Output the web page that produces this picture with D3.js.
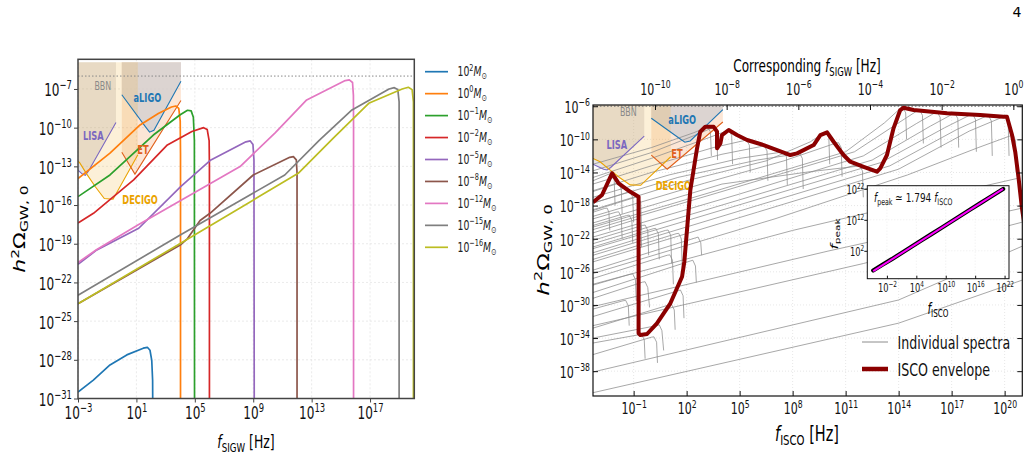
<!DOCTYPE html>
<html><head><meta charset="utf-8">
<script src="https://cdn.jsdelivr.net/npm/d3@7"></script>
<style>body{margin:0;background:#fff}svg{display:block}text{font-family:"DejaVu Sans",sans-serif}</style>
</head><body><svg id="c" width="1031" height="454"></svg>
<script>
// ---------------- DATA (log10 values: [log10 f, log10 h^2 Omega]) ----------------
const massExponents = ["2","0","−1","−2","−5","−8","−12","−15","−16"];
const massColors = ["#1f77b4","#ff7f0e","#2ca02c","#d62728","#9467bd","#8c564b","#e377c2","#7f7f7f","#bcbd22"];
const specM2  = [[-3,-30.5],[-1.95,-29.57],[-0.81,-28.4],[0.34,-27.62],[1.47,-27.1],[1.75,-27.03],[1.93,-27.26],[2.05,-28.04],[2.11,-29.6],[2.12,-32]];
const specM0  = [[-3,-13.95],[-0.81,-11.98],[1.25,-9.79],[2.5,-8.9],[3.4,-8.4],[3.7,-8.32],[3.9,-8.5],[4.0,-9.5],[4.02,-12],[4.02,-32]];
const specMm1 = [[-3,-15.35],[-0.81,-13.67],[2.16,-10.57],[4.0,-9.0],[4.5,-8.65],[4.75,-8.7],[4.9,-9.2],[4.97,-11],[4.98,-32]];
const specMm2 = [[-3,-17.4],[-1.94,-16.64],[0.81,-14.05],[3.12,-11.34],[4.8,-10.3],[5.6,-10.0],[5.85,-10.15],[5.98,-11],[6.0,-13],[6.0,-32]];
const specMm5 = [[-3,-20.6],[-1.71,-19.48],[1.16,-17.8],[4.03,-14.57],[6.1,-12.5],[8.5,-11.1],[8.8,-11.03],[8.98,-11.3],[9.05,-12.5],[9.07,-32]];
const specMm8 = [[-3,-23.65],[4.0,-19.1],[4.5,-18.6],[5.36,-17.2],[6.04,-16.64],[9.0,-13.67],[11.5,-12.3],[11.75,-12.25],[11.95,-12.5],[12.0,-13.5],[12.0,-32]];
const specMm12= [[-3,-20.45],[-1.71,-19.45],[1.13,-17.53],[8.1,-13.02],[10.5,-10.4],[12.66,-7.85],[15.3,-6.35],[15.58,-6.3],[15.8,-6.5],[15.86,-7.5],[15.87,-10],[15.87,-32]];
const specMm15= [[-3,-23.0],[4.03,-18.3],[11.16,-13.67],[13.5,-11.0],[15.76,-8.63],[18.3,-7.0],[18.66,-6.9],[18.9,-7.05],[18.99,-8],[18.99,-32]];
const specMm16= [[-3,-23.65],[4.03,-18.96],[12.08,-13.54],[14.5,-10.8],[16.91,-8.11],[19.2,-7.0],[19.62,-6.87],[19.88,-7.05],[19.97,-8],[19.97,-32]];

const lisaCurve   = [[-3.3,-13.0],[-3.0,-13.3],[-2.7,-13.6],[-2.5,-13.7],[-2.3,-13.4],[-0.4,-9.6]];
const decigoCurve = [[-3.3,-12.3],[-2.9,-12.7],[-2.4,-13.6],[-1.8,-14.6],[-1.2,-15.5],[-0.6,-15.55],[1.1,-12.1]];
const etCurve     = [[0.0,-11.9],[0.9,-13.6],[4.05,-7.9]];
const aligoCurve  = [[0.0,-7.45],[1.6,-9.9],[1.9,-10.35],[2.2,-10.2],[4.05,-6.4]];
const detectorTop = -4.93;
const bbnLimit = -6.0;

const iscoEnvelope = [[-3.3,-17.6],[-3.26,-17.53],[-2.79,-16.72],[-2.22,-14.1],[-1.85,-15.31],[-1.19,-16.33],[-0.72,-16.93],[-0.72,-33.43],[-0.62,-33.63],[-0.24,-33.51],[0.32,-32.22],[1.08,-29.8],[1.74,-26.59],[1.87,-24.78],[2.21,-16.12],[2.59,-11.08],[2.77,-9.08],[3.06,-8.48],[3.53,-8.48],[3.72,-9.08],[3.72,-11.08],[3.91,-10.48],[4.0,-9.48],[4.38,-8.87],[4.85,-9.48],[5.42,-10.08],[6.36,-10.69],[7.12,-11.29],[7.87,-11.89],[8.25,-11.69],[9.19,-10.69],[9.57,-9.48],[9.95,-9.15],[10.32,-10.29],[10.88,-11.89],[11.26,-12.7],[12.02,-13.31],[12.77,-13.91],[12.96,-13.5],[13.34,-11.89],[13.71,-8.67],[14.09,-6.46],[14.28,-6.18],[14.85,-6.46],[16.74,-6.86],[18.62,-7.06],[19.94,-7.27],[20.13,-7.27],[20.42,-9.48],[20.6,-11.5],[20.79,-14.71],[20.98,-18.33],[21.1,-20.0]];

const individualSpectra = [
  [[-3.3,-15.0],[-2.4,-14.2],[-2.25,-14.15],[-2.1,-14.8],[-2.05,-18]],
  [[-3.3,-18.8],[-2.65,-18.35],[-2.5,-18.3],[-2.4,-18.8],[-2.35,-21]],
  [[-3.3,-16.3],[-2.0,-15.4],[-1.85,-15.35],[-1.7,-16.0],[-1.65,-19]],
  [[-3.3,-17.7],[-1.35,-16.4],[-1.2,-16.35],[-1.05,-17.0],[-1.0,-20]],
  [[-3.3,-18.6],[-0.9,-17.0],[-0.75,-16.95],[-0.6,-17.6],[-0.55,-21]],
  [[-3.3,-19.6],[-2.0,-18.8],[-1.85,-18.75],[-1.7,-19.4],[-1.65,-22]],
  [[-3.3,-20.4],[-1.4,-19.2],[-1.25,-19.15],[-1.1,-19.8],[-1.05,-22.5]],
  [[-3.3,-21.3],[-0.9,-19.7],[-0.75,-19.65],[-0.6,-20.3],[-0.55,-23]],
  [[-3.3,-22.2],[-0.5,-20.4],[-0.35,-20.35],[-0.2,-21.0],[-0.15,-24]],
  [[-3.3,-23.0],[0.1,-20.8],[0.25,-20.75],[0.4,-21.4],[0.45,-24.5]],
  [[-3.3,-23.7],[0.8,-21.0],[0.95,-20.95],[1.1,-21.6],[1.15,-25]],
  [[-3.3,-24.5],[1.4,-21.4],[1.55,-21.35],[1.7,-22.0],[1.75,-25.5]],
  [[-3.3,-26.8],[0.9,-24.0],[1.05,-23.95],[1.2,-24.6],[1.25,-27.5]],
  [[-3.3,-27.6],[-1.2,-26.3],[-1.05,-26.25],[-0.9,-26.9],[-0.85,-29.5]],
  [[-3.3,-29.2],[-0.5,-27.25],[-0.35,-27.2],[-0.2,-27.9],[-0.1,-30.3]],
  [[-3.3,-30.5],[-1.6,-29.5],[-1.45,-29.45],[-1.3,-30.1],[-1.25,-32.5]],
  [[-3.3,-32.8],[1.0,-30.0],[1.15,-29.95],[1.3,-30.6],[1.35,-33]],
  [[-3.3,-34.0],[0.3,-32.5],[0.45,-32.4],[0.6,-33.1],[0.7,-35.5]],
  [[-3.3,-34.6],[-0.7,-33.6],[-0.55,-33.55],[-0.4,-34.2],[-0.35,-36.5]],
  [[-3.3,-36.0],[0.0,-33.9],[0.15,-33.85],[0.3,-34.5],[0.35,-37]],
  [[-3.3,-31.4],[1.5,-28.3],[1.65,-28.2],[1.8,-28.9],[1.85,-31.6]],
  [[-3.3,-28.5],[2.2,-24.7],[2.35,-24.6],[2.5,-25.3],[2.55,-27.3]],
  [[-3.3,-25.8],[2.5,-21.9],[2.65,-21.8],[2.8,-22.5],[2.85,-24.0]],
  [[-3.3,-13.0],[0,-11.0],[2.4,-9.2],[3.05,-8.65],[3.2,-8.6],[3.35,-9.1],[3.4,-12]],
  [[-3.3,-13.8],[0,-11.6],[2.6,-9.4],[3.45,-8.6],[3.6,-8.55],[3.72,-9.2],[3.75,-12.5]],
  [[-3.3,-14.6],[0,-12.3],[3,-10.0],[4.25,-9.0],[4.4,-8.95],[4.55,-9.5],[4.6,-13]],
  [[-3.3,-15.4],[0,-13.2],[3.5,-11.0],[5.25,-10.15],[5.4,-10.1],[5.55,-10.7],[5.6,-14]],
  [[-3.3,-16.2],[0,-14.0],[4,-11.8],[6.25,-10.85],[6.4,-10.8],[6.55,-11.4],[6.6,-15]],
  [[-3.3,-17.0],[1,-14.3],[5,-12.3],[7.35,-11.55],[7.5,-11.5],[7.65,-12.1],[7.7,-15.5]],
  [[-3.3,-17.7],[1.5,-14.6],[6,-12.5],[8.25,-11.75],[8.4,-11.7],[8.55,-12.3],[8.6,-16]],
  [[-3.3,-18.5],[2,-15.0],[6.5,-12.6],[9.0,-10.3],[9.75,-9.25],[9.9,-9.2],[10.05,-9.8],[10.1,-13]],
  [[-3.3,-19.3],[3,-15.3],[7.5,-12.6],[10.45,-10.45],[10.6,-10.4],[10.75,-11],[10.8,-14.5]],
  [[-3.3,-20.1],[4,-15.4],[9,-13.9],[11.65,-13.25],[11.8,-13.2],[11.95,-13.8],[12.0,-17]],
  [[-3.3,-20.6],[4,-16.0],[11,-11.5],[13.2,-8.0],[14.1,-6.25],[14.25,-6.2],[14.4,-6.8],[14.45,-10]],
  [[-3.3,-20.9],[4,-16.3],[11.5,-11.5],[14,-8.0],[15.05,-6.55],[15.2,-6.5],[15.35,-7.1],[15.4,-10.5]],
  [[-3.3,-21.8],[5,-16.6],[12,-12.0],[15,-8.1],[16.05,-6.8],[16.2,-6.75],[16.35,-7.35],[16.4,-11]],
  [[-3.3,-22.6],[5,-17.3],[12.5,-12.5],[15.8,-8.4],[17.05,-6.95],[17.2,-6.9],[17.35,-7.5],[17.4,-11]],
  [[-3.3,-23.2],[5,-17.9],[13,-12.8],[16.6,-8.6],[18.05,-7.05],[18.2,-7.0],[18.35,-7.6],[18.4,-11.5]],
  [[-3.3,-24.0],[6,-18.0],[13.5,-13.2],[17.3,-8.8],[18.95,-7.2],[19.1,-7.15],[19.25,-7.8],[19.3,-12]],
  [[-3.3,-24.8],[6,-18.8],[14,-13.6],[18,-9.0],[19.9,-7.3],[20.05,-7.25],[20.2,-7.9],[20.25,-12]],
  [[-3.3,-26.2],[7,-19.6],[14.5,-14.3],[18.5,-11],[20.35,-9.55],[20.5,-9.5],[20.62,-10.2],[20.66,-14]],
  [[-3.3,-27.5],[8,-21.0],[15,-17.5],[20.65,-14.75],[20.8,-14.7],[20.9,-15.3],[20.95,-19]],
  [[-3.3,-30.2],[10,-23.5],[21.0,-18.3]],
  [[-3.3,-32.5],[12,-25.0],[21.0,-20.0]],
  [[-3.3,-38.1],[14.0,-29.4],[21.0,-22.9]],
  [[-3.3,-40.6],[14.0,-32.2],[21.0,-27.0]]
];

const insetIsco = [-4.8,-3,-1,1,3,5,7,9,11,13,15,17,19,21.7];
const insetPeak = [-4.35,-2.6,-0.7,1.3,3.3,5.3,7.3,9.3,11.3,13.3,15.3,17.3,19.3,21.95];
const insetFit  = [[-4.8,-4.55],[21.7,21.95]];

const leftXTicks  = [-3,1,5,9,13,17];
const leftYTicks  = [-31,-28,-25,-22,-19,-16,-13,-10,-7];
const rightXTicks = [-1,2,5,8,11,14,17,20];
const rightYTicks = [-38,-34,-30,-26,-22,-18,-14,-10,-6];
const topTicks    = [-10,-8,-6,-4,-2,0];
const insetXTicks = [-2,4,10,16,22];
const insetYTicks = [2,12,22];

const detectorLabels = [
  {t:"BBN", x:-1.3, y:-6.75, c:"#8a8a8a", w:"normal"},
  {t:"aLIGO", x:1.75, y:-7.7, c:"#1f77b4", w:"bold"},
  {t:"LISA", x:-1.95, y:-10.67, c:"#7b68c0", w:"bold"},
  {t:"ET", x:1.45, y:-11.75, c:"#e0601a", w:"bold"},
  {t:"DECIGO", x:1.25, y:-15.6, c:"#eaa300", w:"bold"}
];

// ---------------- DRAWING ----------------
const SX = 0.69;
const svg = d3.select("#c");
const P = v => Math.pow(10, v);
const supStr = e => (e < 0 ? "−" : "") + Math.abs(e);

function rich(parent, x, y, parts, o) {
  const fs = o.fs;
  const t = parent.append("text")
    .attr("transform", `translate(${x},${y}) scale(${SX},1)` + (o.rot ? ` rotate(${o.rot})` : ""))
    .attr("font-size", fs).attr("text-anchor", o.anchor || "start").attr("fill", o.fill || "#000");
  if (o.weight) t.attr("font-weight", o.weight);
  let cur = 0;
  parts.forEach(p => {
    const target = p.s === "sup" ? -0.42 * fs : p.s === "sub" ? 0.2 * fs : 0;
    const ts = t.append("tspan").attr("dy", target - cur).text(p.t);
    cur = target;
    if (p.s) ts.attr("font-size", fs * 0.7);
    if (p.i) ts.attr("font-style", "italic");
  });
  return t;
}
function expTicks(g, fs, xShift) {
  g.selectAll(".tick text").each(function(d) {
    const e = Math.round(Math.log10(d));
    const t = d3.select(this).text(null).attr("font-size", fs).attr("fill", "#111");
    t.append("tspan").text("10");
    t.append("tspan").attr("font-size", fs * 0.7).attr("dy", -0.42 * fs).text(supStr(e));
    t.attr("transform", `scale(${SX},1)`);
    if (xShift !== undefined) t.attr("x", xShift / SX);
  });
}

// ===== LEFT PANEL =====
const L = {x0:78, x1:414.3, y0:59.3, y1:398.5};
const xL = d3.scaleLog().domain([P(-3), P(20.03)]).range([L.x0, L.x1]);
const yL = d3.scaleLog().domain([P(-31), P(-4.7)]).range([L.y1, L.y0]);
const gL = svg.append("g");
svg.append("clipPath").attr("id","clipL").append("rect").attr("x",L.x0).attr("y",L.y0).attr("width",L.x1-L.x0).attr("height",L.y1-L.y0);

gL.append("g").selectAll("line").data(leftXTicks).join("line")
  .attr("x1", d => xL(P(d))).attr("x2", d => xL(P(d))).attr("y1", L.y0).attr("y2", L.y1)
  .attr("stroke", "#e4e4e4").attr("stroke-width", 0.8).attr("stroke-dasharray", "2,2");
gL.append("g").selectAll("line").data(leftYTicks).join("line")
  .attr("y1", d => yL(P(d))).attr("y2", d => yL(P(d))).attr("x1", L.x0).attr("x2", L.x1)
  .attr("stroke", "#e4e4e4").attr("stroke-width", 0.8).attr("stroke-dasharray", "2,2");

function detectorLayer(g, x, y, clipId) {
  const lineG = d3.line().x(d => x(P(d[0]))).y(d => y(P(d[1])));
  const fillPts = c => c.concat([[c[c.length-1][0], detectorTop], [c[0][0], detectorTop]]);
  const fills = g.append("g").attr("clip-path", `url(#${clipId})`);
  fills.append("path").attr("d", lineG(fillPts(etCurve)) + "Z").attr("fill", "rgba(240,140,70,0.22)");
  fills.append("path").attr("d", lineG(fillPts(lisaCurve)) + "Z").attr("fill", "rgba(172,166,172,0.3)");
  fills.append("path").attr("d", lineG(fillPts(aligoCurve)) + "Z").attr("fill", "rgba(212,207,207,0.82)");
  fills.append("path").attr("d", lineG(fillPts(decigoCurve)) + "Z").attr("fill", "rgba(240,180,60,0.2)");
  return lineG;
}
function detectorLines(g, lineG, clipId) {
  const gg = g.append("g").attr("clip-path", `url(#${clipId})`).attr("fill", "none");
  gg.append("path").attr("d", lineG(lisaCurve)).attr("stroke", "#7b68c0").attr("stroke-width", 1.1);
  gg.append("path").attr("d", lineG(decigoCurve)).attr("stroke", "#eaa300").attr("stroke-width", 1.1);
  gg.append("path").attr("d", lineG(etCurve)).attr("stroke", "#e0601a").attr("stroke-width", 1.1);
  gg.append("path").attr("d", lineG(aligoCurve)).attr("stroke", "#1f77b4").attr("stroke-width", 1.1);
}
function detectorText(g, x, y) {
  detectorLabels.forEach(l => {
    rich(g, x(P(l.x)), y(P(l.y)) + 4, [{t:l.t}], {fs: l.w === "bold" ? 12 : 11.5, anchor:"middle", fill:l.c, weight:l.w});
  });
}

const lineL = detectorLayer(gL, xL, yL, "clipL");
gL.append("line").attr("x1", L.x0).attr("x2", L.x1).attr("y1", yL(P(bbnLimit))).attr("y2", yL(P(bbnLimit)))
  .attr("stroke", "#888").attr("stroke-width", 1).attr("stroke-dasharray", "1.5,2");
detectorLines(gL, lineL, "clipL");

const massSpectra = [specM2, specM0, specMm1, specMm2, specMm5, specMm8, specMm12, specMm15, specMm16];
const curvesL = gL.append("g").attr("clip-path", "url(#clipL)").attr("fill", "none");
massSpectra.forEach((s, i) => {
  curvesL.append("path").attr("d", lineL(s)).attr("stroke", massColors[i]).attr("stroke-width", 1.7)
    .attr("stroke-linejoin", "round");
});
detectorText(gL, xL, yL);

gL.append("rect").attr("x", L.x0).attr("y", L.y0).attr("width", L.x1-L.x0).attr("height", L.y1-L.y0)
  .attr("fill", "none").attr("stroke", "#444").attr("stroke-width", 1.5);
const axLB = gL.append("g").attr("transform", `translate(0,${L.y1})`)
  .call(d3.axisBottom(xL).tickValues(leftXTicks.map(P)).tickSize(4).tickPadding(4));
axLB.select(".domain").remove();
axLB.selectAll(".tick line").attr("stroke", "#444");
expTicks(axLB, 17.5);
const axLL = gL.append("g").attr("transform", `translate(${L.x0},0)`)
  .call(d3.axisLeft(yL).tickValues(leftYTicks.map(P)).tickSize(4).tickPadding(3));
axLL.select(".domain").remove();
axLL.selectAll(".tick line").attr("stroke", "#444");
expTicks(axLL, 17.5, -6);
axLL.selectAll(".tick text").attr("dy", "0.4em");

rich(gL, 246, 448, [{t:"f", i:true}, {t:"SIGW", s:"sub"}, {t:" [Hz]"}], {fs:18, anchor:"middle"});
rich(gL, 25, 229, [{t:"h", i:true}, {t:"2", s:"sup"}, {t:"Ω"}, {t:"GW, 0", s:"sub"}], {fs:22, anchor:"middle", rot:-90});

// legend
const legL = gL.append("g");
massExponents.forEach((e, i) => {
  const yy = 71.7 + i * 21.95;
  legL.append("line").attr("x1", 425).attr("x2", 448).attr("y1", yy).attr("y2", yy)
    .attr("stroke", massColors[i]).attr("stroke-width", 1.7);
  rich(legL, 457.5, yy + 4.5, [{t:"10"}, {t:e, s:"sup"}, {t:"M", i:true}, {t:"⊙", s:"sub"}], {fs:13.5, fill:"#222"});
});

// ===== RIGHT PANEL =====
const R = {x0:593, x1:1022.3, y0:105, y1:396};
const xR = d3.scaleLog().domain([P(-3.3), P(21.0)]).range([R.x0, R.x1]);
const yR = d3.scaleLog().domain([P(-41), P(-5.85)]).range([R.y1, R.y0]);
const xTop = d3.scaleLog().domain([P(-11.73), P(0.25)]).range([R.x0, R.x1]);
const gR = svg.append("g");
svg.append("clipPath").attr("id","clipR").append("rect").attr("x",R.x0).attr("y",R.y0).attr("width",R.x1-R.x0).attr("height",R.y1-R.y0);

gR.append("g").selectAll("line").data(rightXTicks).join("line")
  .attr("x1", d => xR(P(d))).attr("x2", d => xR(P(d))).attr("y1", R.y0).attr("y2", R.y1)
  .attr("stroke", "#dcdcdc").attr("stroke-width", 0.7).attr("stroke-dasharray", "1,2");
gR.append("g").selectAll("line").data(rightYTicks).join("line")
  .attr("y1", d => yR(P(d))).attr("y2", d => yR(P(d))).attr("x1", R.x0).attr("x2", R.x1)
  .attr("stroke", "#dcdcdc").attr("stroke-width", 0.7).attr("stroke-dasharray", "1,2");

const lineR = detectorLayer(gR, xR, yR, "clipR");
const grayG = gR.append("g").attr("clip-path", "url(#clipR)").attr("fill", "none");
const lineRc = d3.line().x(d => xR(P(d[0]))).y(d => yR(P(d[1])));
individualSpectra.forEach(s => {
  grayG.append("path").attr("d", lineRc(s)).attr("stroke", "#8c8c8c").attr("stroke-width", 0.9).attr("stroke-opacity", 0.85);
});
gR.append("line").attr("x1", R.x0).attr("x2", R.x1).attr("y1", yR(P(bbnLimit))).attr("y2", yR(P(bbnLimit)))
  .attr("stroke", "#777").attr("stroke-width", 1).attr("stroke-dasharray", "1.5,2");
detectorLines(gR, lineR, "clipR");
detectorText(gR, xR, yR);
gR.append("g").attr("clip-path", "url(#clipR)").append("path").attr("d", lineRc(iscoEnvelope))
  .attr("fill", "none").attr("stroke", "#8b0000").attr("stroke-width", 4).attr("stroke-linejoin", "round");

gR.append("rect").attr("x", R.x0).attr("y", R.y0).attr("width", R.x1-R.x0).attr("height", R.y1-R.y0)
  .attr("fill", "none").attr("stroke", "#111").attr("stroke-width", 1.2);
const axRB = gR.append("g").attr("transform", `translate(0,${R.y1})`)
  .call(d3.axisBottom(xR).tickValues(rightXTicks.map(P)).tickSize(-5).tickPadding(7));
axRB.select(".domain").remove();
expTicks(axRB, 16);
const axRL = gR.append("g").attr("transform", `translate(${R.x0},0)`)
  .call(d3.axisLeft(yR).tickValues(rightYTicks.map(P)).tickSize(-5).tickPadding(4));
axRL.select(".domain").remove();
expTicks(axRL, 16, -3);
axRL.selectAll(".tick text").attr("dy", "0.4em");
const axRR = gR.append("g").attr("transform", `translate(${R.x1},0)`)
  .call(d3.axisRight(yR).tickValues(rightYTicks.map(P)).tickSize(-5).tickFormat(""));
axRR.select(".domain").remove();
const axRT = gR.append("g").attr("transform", `translate(0,${R.y0})`)
  .call(d3.axisTop(xTop).tickValues(topTicks.map(P)).tickSize(-5).tickPadding(10));
axRT.select(".domain").remove();
expTicks(axRT, 16);
gR.selectAll(".tick line").attr("stroke", "#111");

rich(gR, 807, 441, [{t:"f", i:true}, {t:"ISCO", s:"sub"}, {t:" [Hz]"}], {fs:21, anchor:"middle"});
rich(gR, 807, 72, [{t:"Corresponding "}, {t:"f", i:true}, {t:"SIGW", s:"sub"}, {t:" [Hz]"}], {fs:17.5, anchor:"middle"});
rich(gR, 549, 250, [{t:"h", i:true}, {t:"2", s:"sup"}, {t:"Ω"}, {t:"GW, 0", s:"sub"}], {fs:23, anchor:"middle", rot:-90});

// legend
gR.append("line").attr("x1", 862).attr("x2", 888).attr("y1", 342).attr("y2", 342).attr("stroke", "#8c8c8c").attr("stroke-width", 1);
rich(gR, 897.5, 348.5, [{t:"Individual spectra"}], {fs:18.3, fill:"#111"});
gR.append("line").attr("x1", 862).attr("x2", 888).attr("y1", 369).attr("y2", 369).attr("stroke", "#8b0000").attr("stroke-width", 4.5);
rich(gR, 897.5, 376, [{t:"ISCO envelope"}], {fs:18.3, fill:"#111"});

// ===== INSET =====
const I = {x0:867.3, x1:1009, y0:185.7, y1:278.7};
const xI = d3.scaleLog().domain([P(-6), P(22.9)]).range([I.x0, I.x1]);
const yI = d3.scaleLog().domain([P(-7), P(23)]).range([I.y1, I.y0]);
const gI = svg.append("g");
gI.append("rect").attr("x", I.x0).attr("y", I.y0).attr("width", I.x1-I.x0).attr("height", I.y1-I.y0).attr("fill", "#fff");
svg.append("clipPath").attr("id","clipI").append("rect").attr("x",I.x0).attr("y",I.y0).attr("width",I.x1-I.x0).attr("height",I.y1-I.y0);
gI.append("g").selectAll("line").data(insetXTicks).join("line")
  .attr("x1", d => xI(P(d))).attr("x2", d => xI(P(d))).attr("y1", I.y0).attr("y2", I.y1)
  .attr("stroke", "#e0e0e0").attr("stroke-width", 0.6).attr("stroke-dasharray", "1,2");
gI.append("g").selectAll("line").data(insetYTicks).join("line")
  .attr("y1", d => yI(P(d))).attr("y2", d => yI(P(d))).attr("x1", I.x0).attr("x2", I.x1)
  .attr("stroke", "#e0e0e0").attr("stroke-width", 0.6).attr("stroke-dasharray", "1,2");
const lineI = d3.line().x(d => xI(P(d[0]))).y(d => yI(P(d[1])));
const insetPts = insetIsco.map((v, i) => [v, insetPeak[i]]);
const gIc = gI.append("g").attr("clip-path", "url(#clipI)").attr("fill", "none");
gIc.append("path").attr("d", lineI(insetPts)).attr("stroke", "#000").attr("stroke-width", 4.2).attr("stroke-linecap", "round");
gIc.append("path").attr("d", lineI(insetFit)).attr("stroke", "#ff00ff").attr("stroke-width", 2);
gI.append("rect").attr("x", I.x0).attr("y", I.y0).attr("width", I.x1-I.x0).attr("height", I.y1-I.y0)
  .attr("fill", "none").attr("stroke", "#111").attr("stroke-width", 1);
const axIB = gI.append("g").attr("transform", `translate(0,${I.y1})`)
  .call(d3.axisBottom(xI).tickValues(insetXTicks.map(P)).tickSize(-3).tickPadding(5));
axIB.select(".domain").remove();
expTicks(axIB, 12);
const axIL = gI.append("g").attr("transform", `translate(${I.x0},0)`)
  .call(d3.axisLeft(yI).tickValues(insetYTicks.map(P)).tickSize(3).tickPadding(2));
axIL.select(".domain").remove();
expTicks(axIL, 12, -3);
axIL.selectAll(".tick text").attr("dy", "0.4em");
gI.selectAll(".tick line").attr("stroke", "#111");
rich(gI, 874, 202, [{t:"f", i:true}, {t:"peak", s:"sub"}, {t:" ≃ 1.794 "}, {t:"f", i:true}, {t:"ISCO", s:"sub"}], {fs:13, fill:"#111"});
rich(gI, 938, 314, [{t:"f", i:true}, {t:"ISCO", s:"sub"}], {fs:15, anchor:"middle"});
rich(gI, 838, 234, [{t:"f", i:true}, {t:"peak", s:"sub"}], {fs:15, anchor:"middle", rot:-90});

// page number
svg.append("text").attr("x", 1017).attr("y", 17).attr("font-size", 14).attr("font-family", "'DejaVu Serif',serif").attr("text-anchor", "middle").text("4");
</script></body></html>
